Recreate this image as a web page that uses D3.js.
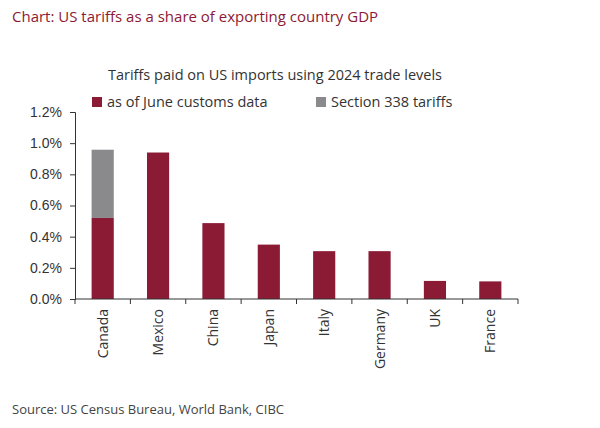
<!DOCTYPE html>
<html><head><meta charset="utf-8">
<script src="https://cdn.jsdelivr.net/npm/d3@7"></script>
<style>
body { margin: 0; background: #fff; font-family: "Open Sans", "DejaVu Sans", sans-serif; }
text { fill: #333; }
</style></head>
<body><svg id="chart" width="600" height="428"></svg>
<script>
let countries = ["Canada", "Mexico", "China", "Japan", "Italy", "Germany", "UK", "France"];
let customs = [0.52, 0.94, 0.487, 0.349, 0.307, 0.307, 0.116, 0.113];
let section338 = [0.438, 0, 0, 0, 0, 0, 0, 0];
let yTicks = [0, 0.2, 0.4, 0.6, 0.8, 1.0, 1.2];

let svg = d3.select("#chart");
let plotLeft = 75, plotRight = 518, plotTop = 112, plotBottom = 299;

// Title and subtitle
svg.append("text").attr("x", 12).attr("y", 22)
	.style("fill", "#8b1a35").style("font-size", "15px")
	.text("Chart: US tariffs as a share of exporting country GDP");
svg.append("text").attr("x", 275).attr("y", 80).attr("text-anchor", "middle")
	.style("font-size", "14.5px")
	.text("Tariffs paid on US imports using 2024 trade levels");

let x = d3.scaleBand().domain(countries).range([plotLeft, plotRight]).paddingInner(0.6).paddingOuter(0.3);
let xa = d3.scaleBand().domain(countries).range([plotLeft, plotRight]);
let y = d3.scaleLinear().domain([0, 1.2]).range([plotBottom, plotTop]);

// Bars
let g = svg.append("g");
g.selectAll(".red").data(countries).enter().append("rect")
	.attr("x", d => x(d)).attr("width", x.bandwidth())
	.attr("y", (d, i) => y(customs[i]))
	.attr("height", (d, i) => y(0) - y(customs[i]))
	.attr("fill", "#8b1a35");
g.selectAll(".grey").data(countries).enter().append("rect")
	.attr("x", d => x(d)).attr("width", x.bandwidth())
	.attr("y", (d, i) => y(customs[i] + section338[i]))
	.attr("height", (d, i) => y(customs[i]) - y(customs[i] + section338[i]))
	.attr("fill", "#8a8a8c");

// Y axis
let yAxis = svg.append("g").attr("transform", "translate(" + plotLeft + ",0)")
	.call(d3.axisLeft(y).tickValues(yTicks).tickFormat(d => d.toFixed(1) + "%").tickSize(5).tickPadding(8));
yAxis.selectAll("text").style("font-size", "14px").style("fill", "#333");
yAxis.selectAll("line, path").attr("stroke", "#333");

// X axis with ticks between categories
let xAxis = svg.append("g").attr("transform", "translate(0," + plotBottom + ")");
xAxis.append("line").attr("x1", plotLeft).attr("x2", plotRight).attr("stroke", "#333");
let bounds = countries.map(c => xa(c)).concat([plotRight]);
xAxis.selectAll(".tk").data(bounds).enter().append("line")
	.attr("x1", d => d).attr("x2", d => d).attr("y1", 0).attr("y2", 5).attr("stroke", "#333");
xAxis.selectAll(".lbl").data(countries).enter().append("text")
	.attr("transform", d => "translate(" + (x(d) + x.bandwidth() / 2 + 5) + ",10) rotate(-90)")
	.attr("text-anchor", "end")
	.style("font-size", "14px")
	.text(d => d);

// Legend
let legend = [["as of June customs data", "#8b1a35", 92], ["Section 338 tariffs", "#8a8a8c", 316]];
legend.forEach(l => {
	svg.append("rect").attr("x", l[2]).attr("y", 97).attr("width", 10).attr("height", 10).attr("fill", l[1]);
	svg.append("text").attr("x", l[2] + 15).attr("y", 107).style("font-size", "14.5px").text(l[0]);
});

// Source
svg.append("text").attr("x", 12).attr("y", 414).style("font-size", "13px").style("fill", "#444")
	.text("Source: US Census Bureau, World Bank, CIBC");
</script></body></html>
